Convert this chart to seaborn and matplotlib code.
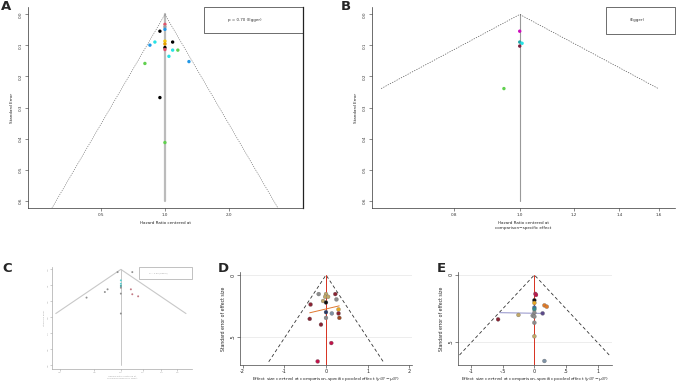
import numpy as np
import pandas as pd
import seaborn as sns
import matplotlib.pyplot as plt
from matplotlib.patches import Rectangle

sns.set_style("ticks")
plt.rcParams["font.family"] = ["DejaVu Sans"]

# ---- data: panel A (HR centered, SE) ----
a_hr = [1.00, 1.00, 1.00, 0.947, 1.087, 0.897, 0.85, 1.00, 1.00, 1.00, 1.00,
        1.087, 1.15, 1.044, 1.297, 0.805, 0.947, 1.00]
a_se = [0.032, 0.040, 0.048, 0.054, 0.089, 0.089, 0.099, 0.086, 0.095, 0.107,
        0.113, 0.115, 0.115, 0.135, 0.152, 0.158, 0.268, 0.413]
a_grp = ["red", "gray", "blue", "black", "black", "cyan", "blue", "yellow",
         "orange", "black", "red", "cyan", "green", "cyan", "blue", "green",
         "black", "green"]
a_egger = "p = 0.70 (Egger)"

# ---- panel B ----
b_hr = [1.00, 1.00, 1.008, 1.00, 0.948]
b_se = [0.054, 0.089, 0.093, 0.102, 0.239]
b_grp = ["magenta", "teal", "cyan", "maroon", "green"]
b_egger = "(Egger)"

# ---- panel C ----
c_hr = [0.973, 1.10, 1.00, 1.00, 1.00, 1.00, 0.895, 0.875, 1.087, 1.10, 1.155,
        1.00, 0.751, 1.00]
c_se = [0.017, 0.017, 0.069, 0.090, 0.104, 0.115, 0.125, 0.142, 0.125, 0.156,
        0.169, 0.152, 0.177, 0.277]
c_grp = ["gray", "gray", "cyan", "cyan", "teal", "gray", "gray", "gray", "red",
         "red", "red", "gray", "gray", "gray"]
c_egger = "p = 0.89 (Egger)"

# ---- panel D (Stata netfunnel) ----
d_x = [-0.175, 0.0, 0.222, -0.02, 0.05, 0.25, -0.07, 0.0, -0.37, 0.30, 0.0,
       0.14, 0.30, -0.39, 0.0, 0.32, -0.12, 0.127, -0.2]
d_y = [0.154, 0.154, 0.154, 0.176, 0.176, 0.197, 0.21, 0.222, 0.238, 0.278,
       0.30, 0.31, 0.31, 0.354, 0.346, 0.346, 0.40, 0.549, 0.697]
d_grp = ["gray", "khaki", "maroon", "khaki", "khaki", "gray", "khaki", "black",
         "maroon", "gold", "navy", "bluegray", "maroon", "maroon", "gray",
         "sienna", "maroon", "cranberry", "cranberry"]
d_reg_x = [-0.39, 0.317]
d_reg_y = [0.305, 0.249]
d_funnel_se = 0.70

# ---- panel E ----
e_x = [0.016, 0.026, 0.0, 0.0, 0.158, 0.195, 0.0, 0.0, 0.0, 0.13, -0.25,
       -0.026, 0.0, -0.57, 0.0, 0.0, 0.158]
e_y = [0.142, 0.150, 0.19, 0.21, 0.228, 0.238, 0.245, 0.258, 0.283, 0.288,
       0.30, 0.305, 0.312, 0.333, 0.358, 0.46, 0.645]
e_grp = ["cranberry", "cranberry", "black", "gold", "orange", "orange", "blue",
         "teal", "gray", "purple", "khaki", "gray", "gray", "maroon", "gray",
         "khaki", "bluegray"]
e_reg_x = [-0.54, 0.13]
e_reg_y = [0.283, 0.288]
e_funnel_se = 0.60

r_pal = {"black": "#000000", "red": "#DF536B", "green": "#61D04F",
         "blue": "#2297E6", "cyan": "#28E2E5", "magenta": "#CD0BBC",
         "yellow": "#F5C710", "gray": "#9E9E9E", "orange": "#E6A000",
         "teal": "#1FA6A8", "maroon": "#7A1F3D"}
s_pal = {"gray": "#8C8C8C", "khaki": "#C2A868", "maroon": "#8A2434",
         "black": "#111111", "gold": "#E5A823", "navy": "#2A3A66",
         "bluegray": "#7F93A6", "sienna": "#9E4A24", "cranberry": "#C0144A",
         "orange": "#E07B28", "blue": "#2E6EA8", "teal": "#2F8C8C",
         "purple": "#5B4A8A"}

W, H = 676, 383
fig = plt.figure(figsize=(W / 100, H / 100), dpi=100)


def px_axes(l, t, r, b):
    return fig.add_axes([l / W, 1 - b / H, (r - l) / W, (b - t) / H])


def r_style(ax, fs, col="#333333"):
    sns.despine(ax=ax, top=True, right=True)
    for s in ["left", "bottom"]:
        ax.spines[s].set_linewidth(0.5)
        ax.spines[s].set_color(col)
    ax.tick_params(labelsize=fs, width=0.4, length=2, pad=1.5, colors=col)
    ax.minorticks_off()
    for lab in ax.get_yticklabels():
        lab.set_rotation(90)
        lab.set_va("center")


def egger_box(ax, x0, y0, text, fs, tx, col="#333333"):
    ax.add_patch(Rectangle((x0, y0), 1 - x0, 1 - y0, transform=ax.transAxes,
                           fill=False, lw=0.5, ec=col, clip_on=False))
    ax.text(tx, (1 + y0) / 2, text, transform=ax.transAxes, fontsize=fs,
            ha="center", va="center", color=col)


# ===== Panel A =====
ax = px_axes(28, 7, 303, 208)
se_end = 0.65
ax.plot([np.exp(-1.96 * se_end), 1, np.exp(1.96 * se_end)], [se_end, 0, se_end],
        ls=(0, (2, 2)), lw=0.4, color="#555555")
ax.plot([1, 1], [0, 0.6], color="#BBBBBB", lw=1.6, zorder=1)
df = pd.DataFrame({"hr": a_hr, "se": a_se, "g": a_grp})
sns.scatterplot(data=df, x="hr", y="se", hue="g", palette=r_pal, s=6,
                linewidth=0, legend=False, ax=ax, zorder=3)
ax.set_xscale("log")
ax.set_xlim(0.227, 4.46)
ax.set_ylim(0.624, -0.024)
ax.set_xticks([0.5, 1, 2])
ax.set_xticklabels(["0.5", "1.0", "2.0"])
ax.set_yticks(np.arange(0, 0.61, 0.1))
ax.set_yticklabels([f"{v:.1f}" for v in np.arange(0, 0.61, 0.1)])
ax.set_xlabel("Hazard Ratio centered at", fontsize=3, labelpad=3)
ax.set_ylabel("Standard Error", fontsize=3, labelpad=4)
r_style(ax, 3)
ax.spines["right"].set_visible(True)
ax.spines["right"].set_linewidth(0.9)
ax.spines["right"].set_color("#222222")
egger_box(ax, 0.64, 0.871, a_egger, 2.9, 0.79)

# ===== Panel B =====
ax = px_axes(372, 7, 675, 208)
se_end = max(b_se)
ax.plot([np.exp(-1.96 * se_end), 1, np.exp(1.96 * se_end)], [se_end, 0, se_end],
        ls=(0, (2, 2)), lw=0.45, color="#444444")
ax.plot([1, 1], [0, 0.6], color="#999999", lw=0.8, zorder=1)
df = pd.DataFrame({"hr": b_hr, "se": b_se, "g": b_grp})
sns.scatterplot(data=df, x="hr", y="se", hue="g", palette=r_pal, s=6,
                linewidth=0, legend=False, ax=ax, zorder=3)
ax.set_xscale("log")
ax.set_xlim(0.607, 1.69)
ax.set_ylim(0.624, -0.024)
ax.set_xticks([0.8, 1.0, 1.2, 1.4, 1.6])
ax.set_xticklabels(["0.8", "1.0", "1.2", "1.4", "1.6"])
ax.set_yticks(np.arange(0, 0.61, 0.1))
ax.set_yticklabels([f"{v:.1f}" for v in np.arange(0, 0.61, 0.1)])
ax.set_xlabel("Hazard Ratio centered at\ncomparison\u2212specific effect",
              fontsize=3, labelpad=3, linespacing=1.3)
ax.set_ylabel("Standard Error", fontsize=3, labelpad=4)
r_style(ax, 3)
egger_box(ax, 0.772, 0.866, b_egger, 2.9, 0.875)

# ===== Panel C =====
ax = px_axes(52, 267, 192, 369)
light = "#A8A8A8"
se_end = max(c_se)
ax.plot([np.exp(-1.96 * se_end), 1, np.exp(1.96 * se_end)], [se_end, 0, se_end],
        lw=0.8, color="#C8C8C8")
ax.plot([1, 1], [0, 0.6], color="#BEBEBE", lw=0.6, zorder=1)
c_pal = {"gray": "#909090", "cyan": "#5CCFD0", "teal": "#3AA0A0",
         "red": "#C27A84"}
df = pd.DataFrame({"hr": c_hr, "se": c_se, "g": c_grp})
sns.scatterplot(data=df, x="hr", y="se", hue="g", palette=c_pal, s=2,
                linewidth=0, legend=False, ax=ax, zorder=3)
ax.set_xscale("log")
ax.set_xlim(0.563, 1.81)
ax.set_ylim(0.625, -0.015)
ax.set_xticks([0.6, 0.8, 1.0, 1.2, 1.4, 1.6])
ax.set_xticklabels(["0.6", "0.8", "1.0", "1.2", "1.4", "1.6"])
ax.set_yticks(np.arange(0, 0.61, 0.1))
ax.set_yticklabels([f"{v:.1f}" for v in np.arange(0, 0.61, 0.1)])
ax.set_xlabel("Hazard Ratio centered at\ncomparison\u2212specific effect",
              fontsize=1.6, labelpad=2, color=light, linespacing=1.2)
ax.set_ylabel("Standard Error", fontsize=1.6, labelpad=2, color=light)
r_style(ax, 1.6, col=light)
ax.tick_params(length=1.2, pad=1)
egger_box(ax, 0.62, 0.88, c_egger, 1.6, 0.76, col=light)


# ===== Stata-style panels D and E =====
def stata_panel(ax, x, y, grp, reg_x, reg_y, reg_col, fse, xlim, ylim, xticks,
                xlabels):
    for v in [0, 0.5]:
        ax.axhline(v, color="#E6E6E6", lw=0.5, zorder=0)
    ax.plot([-1.96 * fse, 0, 1.96 * fse], [fse, 0, fse], ls=(0, (4, 3)),
            lw=0.6, color="#333333")
    ax.plot([0, 0], [0, ylim[0]], color="#D7301F", lw=0.7)
    ax.plot(reg_x, reg_y, color=reg_col, lw=0.7)
    df = pd.DataFrame({"x": x, "y": y, "g": grp})
    sns.scatterplot(data=df, x="x", y="y", hue="g", palette=s_pal, s=8,
                    linewidth=0.2, edgecolor="#666666", legend=False, ax=ax,
                    zorder=3)
    ax.set_xlim(*xlim)
    ax.set_ylim(*ylim)
    ax.set_xticks(xticks)
    ax.set_xticklabels(xlabels)
    ax.set_yticks([0, 0.5])
    ax.set_yticklabels(["0", ".5"])
    ax.set_xlabel("Effect size centred at comparison-specific pooled effect "
                  r"($y_{iXY}-\mu_{XY}$)", fontsize=3.2, labelpad=0.4)
    ax.set_ylabel("Standard error of effect size", fontsize=3.3, labelpad=3)
    sns.despine(ax=ax)
    for s in ["left", "bottom"]:
        ax.spines[s].set_linewidth(0.5)
        ax.spines[s].set_color("#444444")
    ax.tick_params(labelsize=3.5, width=0.4, length=2, pad=1.2)
    for lab in ax.get_yticklabels():
        lab.set_rotation(90)
        lab.set_va("center")


ax = px_axes(240, 272, 412, 365)
stata_panel(ax, d_x, d_y, d_grp, d_reg_x, d_reg_y, "#E0782E", d_funnel_se,
            (-2.06, 2.06), (0.726, -0.024), [-2, -1, 0, 1, 2],
            ["-2", "-1", "0", "1", "2"])

ax = px_axes(458, 272, 612, 365)
stata_panel(ax, e_x, e_y, e_grp, e_reg_x, e_reg_y, "#8F8FC8", e_funnel_se,
            (-1.2, 1.22), (0.675, -0.022), [-1, -0.5, 0, 0.5, 1],
            ["-1", "-.5", "0", ".5", "1"])

# panel letters
for lab, x, y in [("A", 1, 0), ("B", 341, 0), ("C", 2, 262), ("D", 218, 262),
                  ("E", 437, 262)]:
    fig.text(x / W, 1 - y / H, lab, fontsize=9.5, fontweight="bold",
             ha="left", va="top")

fig.savefig("out.png", dpi=100)
